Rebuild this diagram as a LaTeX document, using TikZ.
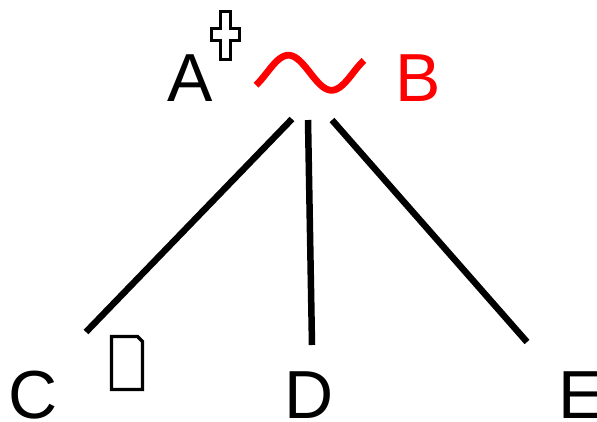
\documentclass[tikz,border=0pt]{standalone}
\usepackage{fontspec}
\setmainfont{Liberation Sans}
\begin{document}
\begin{tikzpicture}[x=1pt,y=-1pt,
  lbl/.style={inner sep=0pt,anchor=base,font=\fontsize{68}{80}\selectfont},
  edge/.style={line width=6.5pt,black},
  glyphbox/.style={line width=3.2pt,black,line join=miter}]
\useasboundingbox (0,0) rectangle (597,421);
% labels
\node[lbl] (A) at (190,101) {A};
\node[lbl,text=red] (B) at (418,101) {B};
\node[lbl] (C) at (33,418) {C};
\node[lbl] (D) at (309,418) {D};
\node[lbl] (E) at (581,418) {E};
% superscript glyph outline
\draw[glyphbox] (220.5,11.5) -- (230.5,11.5) -- (230.5,28.5) -- (239.5,28.5) -- (239.5,40.5) -- (230.5,40.5) -- (230.5,59.5) -- (220.5,59.5) -- (220.5,40.5) -- (211.5,40.5) -- (211.5,28.5) -- (220.5,28.5) -- cycle;
% missing-glyph box near C
\draw[glyphbox] (111.5,336.5) -- (137.5,336.5) -- (142.5,341.5) -- (142.5,389.5) -- (111.5,389.5) -- cycle;
% red tilde
\draw[red,line width=6.8pt,domain=0:1,samples=80,smooth]
  plot ({256+108*\x},{72.75-17.5*sin(-45+450*\x)});
% connectors
\coordinate (t1) at (292,119);
\coordinate (t2) at (308,120);
\coordinate (t3) at (332,120);
\coordinate (c1) at (86,332);
\coordinate (d1) at (312,345);
\coordinate (e1) at (527,342);
\draw[edge] (t1) -- (c1);
\draw[edge] (t2) -- (d1);
\draw[edge] (t3) -- (e1);
\end{tikzpicture}
\end{document}
